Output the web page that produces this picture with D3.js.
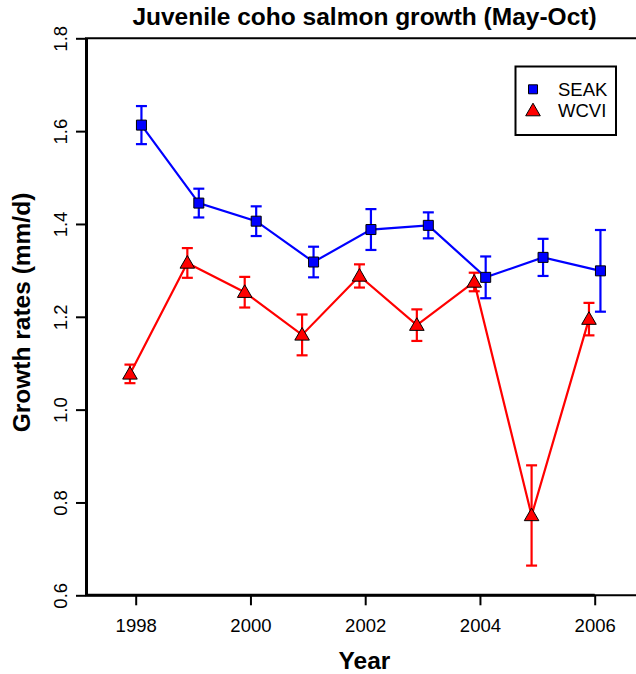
<!DOCTYPE html>
<html>
<head>
<meta charset="utf-8">
<script src="https://cdn.jsdelivr.net/npm/d3@7"></script>
<style>
body { margin: 0; background: #fff; }
text { font-family: Arial, "Liberation Sans", sans-serif; fill: #000; }
.title, .label { font-weight: bold; font-size: 24.5px; }
.axis text { font-size: 18.5px; }
.axis line { stroke: #000; stroke-width: 2; }
</style>
</head>
<body>
<div id="plot"></div>
<script>

// data
var years = [1998, 1999, 2000, 2001, 2002, 2003, 2004, 2005, 2006];
var seakMean = [1.613, 1.445, 1.406, 1.318, 1.388, 1.397, 1.285, 1.328, 1.299];
var seakErr  = [0.041, 0.031, 0.032, 0.033, 0.044, 0.028, 0.045, 0.040, 0.088];
var wcviMean = [1.077, 1.316, 1.253, 1.161, 1.288, 1.182, 1.275, 0.772, 1.195];
var wcviErr  = [0.020, 0.032, 0.033, 0.044, 0.025, 0.034, 0.020, 0.108, 0.035];
var xTicks = [1998, 2000, 2002, 2004, 2006];
var yTicks = [0.6, 0.8, 1.0, 1.2, 1.4, 1.6, 1.8];
var seriesNames = ["SEAK", "WCVI"];
var seriesColors = ["#0000FF", "#FF0000"];

var width = 636, height = 674;
var plotLeft = 86, plotTop = 38.3, plotBottom = 595.3;

var svg = d3.select('#plot')
  .append('svg')
  .attr('width', width)
  .attr('height', height);

var x = d3.scaleLinear()
  .domain([1998, 2006])
  .range([135.7, 594.7]);

var y = d3.scaleLinear()
  .domain([0.6, 1.8])
  .range([plotBottom, plotTop]);

// plot box (thin), right side runs off the page
svg.append('path')
  .attr('d', 'M' + plotLeft + ',' + plotBottom + 'V' + plotTop + 'H' + (width + 20) + 'V' + plotBottom + 'Z')
  .attr('fill', 'none')
  .attr('stroke', '#000')
  .attr('stroke-width', 2);

var yAxis = d3.axisLeft(y)
  .tickValues(yTicks)
  .tickFormat(d3.format(".1f"))
  .tickSize(10)
  .tickSizeOuter(0);

var xAxis = d3.axisBottom(x)
  .tickValues(xTicks)
  .tickFormat(d3.format("d"))
  .tickSize(10)
  .tickSizeOuter(0);

var gy = svg.append('g')
  .attr('class', 'y axis')
  .attr('transform', 'translate(' + plotLeft + ',0)')
  .call(yAxis);
gy.select('.domain').attr('stroke', '#000').attr('stroke-width', 3);
gy.selectAll('.tick text')
  .attr('transform', 'rotate(-90)')
  .attr('x', 0)
  .attr('y', -19)
  .attr('dy', 0)
  .attr('text-anchor', 'middle');

var gx = svg.append('g')
  .attr('class', 'x axis')
  .attr('transform', 'translate(0,' + plotBottom + ')')
  .call(xAxis);
gx.select('.domain').remove();
gx.selectAll('.tick text')
  .attr('y', 37)
  .attr('dy', 0);

// thick bottom axis line from the y axis to the last tick
svg.append('line')
  .attr('x1', plotLeft)
  .attr('x2', x(xTicks[xTicks.length - 1]))
  .attr('y1', plotBottom)
  .attr('y2', plotBottom)
  .attr('stroke', '#000')
  .attr('stroke-width', 3);

svg.append('text')
  .attr('class', 'title')
  .attr('x', 364.5)
  .attr('y', 25)
  .attr('text-anchor', 'middle')
  .text('Juvenile coho salmon growth (May-Oct)');

svg.append('text')
  .attr('class', 'label')
  .attr('x', 364.5)
  .attr('y', 669)
  .attr('text-anchor', 'middle')
  .text('Year');

svg.append('text')
  .attr('class', 'label')
  .attr('transform', 'translate(30,312.5) rotate(-90)')
  .attr('text-anchor', 'middle')
  .text('Growth rates (mm/d)');

var square = d3.symbol().type(d3.symbolSquare).size(100);
var triangle = d3.symbol().type(d3.symbolTriangle).size(92);

function drawSeries(means, errs, offset, color, shape, dyShape) {
  var pts = years.map(function(yr, i) {
    return {x: yr + offset, m: means[i], e: errs[i]};
  });
  var g = svg.append('g');

  g.append('path')
    .datum(pts)
    .attr('fill', 'none')
    .attr('stroke', color)
    .attr('stroke-width', 2.2)
    .attr('d', d3.line().x(function(d){ return x(d.x); }).y(function(d){ return y(d.m); }));

  var eb = g.selectAll('.err')
    .data(pts)
    .enter().append('g')
    .attr('class', 'err')
    .attr('stroke', color)
    .attr('stroke-width', 2.2);
  eb.append('line')
    .attr('x1', function(d){ return x(d.x); })
    .attr('x2', function(d){ return x(d.x); })
    .attr('y1', function(d){ return y(d.m - d.e); })
    .attr('y2', function(d){ return y(d.m + d.e); });
  eb.append('line')
    .attr('x1', function(d){ return x(d.x) - 5.5; })
    .attr('x2', function(d){ return x(d.x) + 5.5; })
    .attr('y1', function(d){ return y(d.m - d.e); })
    .attr('y2', function(d){ return y(d.m - d.e); });
  eb.append('line')
    .attr('x1', function(d){ return x(d.x) - 5.5; })
    .attr('x2', function(d){ return x(d.x) + 5.5; })
    .attr('y1', function(d){ return y(d.m + d.e); })
    .attr('y2', function(d){ return y(d.m + d.e); });

  g.selectAll('.pt')
    .data(pts)
    .enter().append('path')
    .attr('class', 'pt')
    .attr('d', shape)
    .attr('transform', function(d){ return 'translate(' + x(d.x) + ',' + (y(d.m) + dyShape) + ')'; })
    .attr('fill', color)
    .attr('stroke', '#000')
    .attr('stroke-width', 1);
}

drawSeries(wcviMean, wcviErr, -0.1, seriesColors[1], triangle, 1);
drawSeries(seakMean, seakErr, 0.1, seriesColors[0], square, 0);

// legend
var legend = svg.append('g');
legend.append('rect')
  .attr('x', 515.5)
  .attr('y', 66.5)
  .attr('width', 100.5)
  .attr('height', 68.5)
  .attr('fill', '#fff')
  .attr('stroke', '#000')
  .attr('stroke-width', 2);

var shapes = [d3.symbol().type(d3.symbolSquare).size(81), d3.symbol().type(d3.symbolTriangle).size(92)];
var items = legend.selectAll('.item')
  .data(seriesNames)
  .enter().append('g')
  .attr('class', 'item')
  .attr('transform', function(d, i){ return 'translate(533,' + (89.3 + i * 21.3) + ')'; });

items.append('path')
  .attr('d', function(d, i){ return shapes[i](); })
  .attr('transform', function(d, i){ return 'translate(0,' + (i ? 1 : 0) + ')'; })
  .attr('fill', function(d, i){ return seriesColors[i]; })
  .attr('stroke', '#000')
  .attr('stroke-width', 1);

items.append('text')
  .attr('x', 25)
  .attr('y', 6.3)
  .style('font-size', '18.5px')
  .text(function(d){ return d; });

</script>
</body>
</html>
